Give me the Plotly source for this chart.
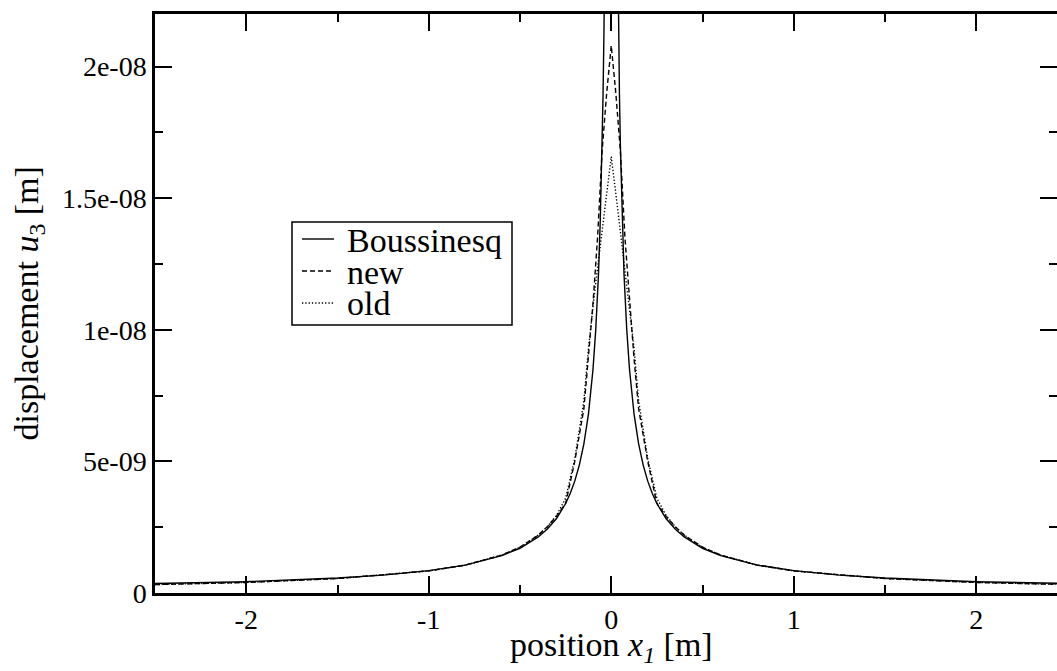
import plotly.graph_objects as go

# ---- data ----
bous_x = [-2.5, -2.0, -1.5, -1.25, -1.0, -0.8, -0.6, -0.5, -0.4, -0.35, -0.3, -0.25, -0.225, -0.2,
          -0.175, -0.15, -0.125, -0.1, -0.085, -0.07, -0.06, -0.05, -0.045, -0.04, -0.035, -0.03,
          None,
          0.03, 0.035, 0.04, 0.045, 0.05, 0.06, 0.07, 0.085, 0.1, 0.125, 0.15, 0.175, 0.2, 0.225,
          0.25, 0.3, 0.35, 0.4, 0.5, 0.6, 0.8, 1.0, 1.25, 1.5, 2.0, 2.5]
bous_y = [3.6e-10, 4.3e-10, 5.7e-10, 6.8e-10, 8.5e-10, 1.06e-9, 1.42e-9, 1.7e-9, 2.13e-9, 2.43e-9,
          2.83e-9, 3.4e-9, 3.78e-9, 4.25e-9, 4.86e-9, 5.67e-9, 6.8e-9, 8.5e-9, 1.0e-8, 1.21e-8,
          1.42e-8, 1.7e-8, 1.89e-8, 2.13e-8, 2.43e-8, 2.83e-8,
          None,
          2.83e-8, 2.43e-8, 2.13e-8, 1.89e-8, 1.7e-8, 1.42e-8, 1.21e-8, 1.0e-8, 8.5e-9, 6.8e-9,
          5.67e-9, 4.86e-9, 4.25e-9, 3.78e-9, 3.4e-9, 2.83e-9, 2.43e-9, 2.13e-9, 1.7e-9, 1.42e-9,
          1.06e-9, 8.5e-10, 6.8e-10, 5.7e-10, 4.3e-10, 3.6e-10]

new_x = [-2.5, -2.0, -1.5, -1.0, -0.8, -0.6, -0.5, -0.4, -0.35, -0.3, -0.25, -0.2, -0.15, -0.125,
         -0.1, -0.075, -0.05, -0.025, 0.0, 0.025, 0.05, 0.075, 0.1, 0.125, 0.15, 0.2, 0.25, 0.3,
         0.35, 0.4, 0.5, 0.6, 0.8, 1.0, 1.5, 2.0, 2.5]
new_y = [3.2e-10, 4.0e-10, 5.5e-10, 8.4e-10, 1.06e-9, 1.44e-9, 1.74e-9, 2.2e-9, 2.52e-9, 2.92e-9,
         3.4e-9, 5.0e-9, 7.0e-9, 8.9e-9, 1.1e-8, 1.35e-8, 1.68e-8, 1.9e-8, 2.08e-8, 1.9e-8, 1.68e-8,
         1.35e-8, 1.1e-8, 8.9e-9, 7.0e-9, 5.0e-9, 3.4e-9, 2.92e-9, 2.52e-9, 2.2e-9, 1.74e-9,
         1.44e-9, 1.06e-9, 8.4e-10, 5.5e-10, 4.0e-10, 3.2e-10]

old_x = [-2.5, -2.0, -1.5, -1.0, -0.8, -0.6, -0.5, -0.4, -0.35, -0.3, -0.25, -0.2, -0.15, -0.125,
         -0.09, -0.06, -0.03, 0.0, 0.03, 0.06, 0.09, 0.125, 0.15, 0.2, 0.25, 0.3, 0.35, 0.4, 0.5,
         0.6, 0.8, 1.0, 1.5, 2.0, 2.5]
old_y = [3.2e-10, 4.0e-10, 5.5e-10, 8.4e-10, 1.06e-9, 1.44e-9, 1.74e-9, 2.2e-9, 2.52e-9, 2.95e-9,
         3.6e-9, 5.1e-9, 7.3e-9, 9.3e-9, 1.15e-8, 1.32e-8, 1.49e-8, 1.658e-8, 1.49e-8, 1.32e-8,
         1.15e-8, 9.3e-9, 7.3e-9, 5.1e-9, 3.6e-9, 2.95e-9, 2.52e-9, 2.2e-9, 1.74e-9, 1.44e-9,
         1.06e-9, 8.4e-10, 5.5e-10, 4.0e-10, 3.2e-10]

series_names = ["Boussinesq", "new", "old"]
series_dash = ["solid", "5px,3px", "1.3px,2px"]

y_tickvals = [0, 5e-9, 1e-8, 1.5e-8, 2e-8]
y_ticktext = ["0", "5e-09", "1e-08", "1.5e-08", "2e-08"]
x_tickvals = [-2, -1, 0, 1, 2]
x_ticktext = ["-2", "-1", "0", "1", "2"]

FONT = "Liberation Serif, Times New Roman, serif"
W, H = 1057, 671
ML, MT, MB = 155, 14, 78
PW, PH = W - ML, H - MT - MB
PX_PER_UNIT = 182.5
x_min = -2.5
x_max = x_min + PW / PX_PER_UNIT
y_range = [0, 2.2e-8]


def px(xp):
    return (xp - ML) / PW


def py(yp):
    return (MT + PH - yp) / PH


fig = go.Figure()
for name, xs, ys, dash in zip(series_names, [bous_x, new_x, old_x], [bous_y, new_y, old_y], series_dash):
    fig.add_trace(go.Scatter(x=xs, y=ys, mode="lines", name=name, showlegend=False,
                             line=dict(color="black", width=1.4, dash=dash), connectgaps=False))
# invisible helper trace for the right-hand tick axis
fig.add_trace(go.Scatter(x=[0], y=[0], yaxis="y2", mode="markers", showlegend=False,
                         marker=dict(opacity=0), hoverinfo="skip"))

axis_common = dict(showgrid=False, zeroline=False, ticks="inside", tickcolor="black",
                   tickwidth=1.5, ticklen=17, linecolor="black", linewidth=2.5,
                   tickfont=dict(family=FONT, size=28, color="black"))

shapes = []
annotations = []
# legend box (manual, to match the compact row spacing of the reference)
shapes.append(dict(type="rect", xref="paper", yref="paper", x0=px(292), x1=px(512), y0=py(325), y1=py(222),
                   line=dict(color="black", width=1.5), fillcolor="white", layer="above"))
row_y = [239, 271, 303]
for name, dash, ry in zip(series_names, series_dash, row_y):
    shapes.append(dict(type="line", xref="paper", yref="paper", x0=px(302), x1=px(334), y0=py(ry), y1=py(ry),
                       line=dict(color="black", width=1.4, dash=dash), layer="above"))
    annotations.append(dict(text=name, xref="paper", yref="paper", x=px(345), y=py(ry + 1),
                            xanchor="left", yanchor="middle", showarrow=False,
                            font=dict(family=FONT, size=34, color="black")))

# axis titles
annotations.append(dict(text="position <i>x</i><sub><i>1</i></sub> [m]", xref="x", yref="paper",
                        x=0, y=py(624), xanchor="center", yanchor="top", showarrow=False,
                        font=dict(family=FONT, size=34, color="black")))
annotations.append(dict(text="displacement <i>u</i><sub>3</sub> [m]", xref="paper", yref="paper",
                        x=px(28), y=0.5, xanchor="center", yanchor="middle", textangle=-90,
                        showarrow=False, font=dict(family=FONT, size=34, color="black")))

fig.update_layout(
    width=W, height=H,
    margin=dict(l=ML, r=0, t=MT, b=MB),
    paper_bgcolor="white", plot_bgcolor="white",
    font=dict(family=FONT, color="black"),
    xaxis=dict(range=[x_min, x_max], tickmode="array", tickvals=x_tickvals, ticktext=x_ticktext,
               showline=True, mirror="ticks",
               minor=dict(ticks="inside", dtick=0.5, ticklen=8, tickwidth=1.5, tickcolor="black"),
               **axis_common),
    yaxis=dict(range=y_range, tickmode="array", tickvals=y_tickvals, ticktext=y_ticktext,
               showline=True,
               minor=dict(ticks="inside", dtick=2.5e-9, ticklen=8, tickwidth=1.5, tickcolor="black"),
               **axis_common),
    yaxis2=dict(range=y_range, overlaying="y", side="right", anchor="x", tickmode="array",
                tickvals=y_tickvals, showticklabels=False, showgrid=False, zeroline=False,
                showline=False, ticks="inside", ticklen=17, tickwidth=1.5, tickcolor="black",
                minor=dict(ticks="inside", dtick=2.5e-9, ticklen=8, tickwidth=1.5, tickcolor="black")),
    shapes=shapes,
    annotations=annotations,
    showlegend=False,
)

fig.write_html("out.html")
